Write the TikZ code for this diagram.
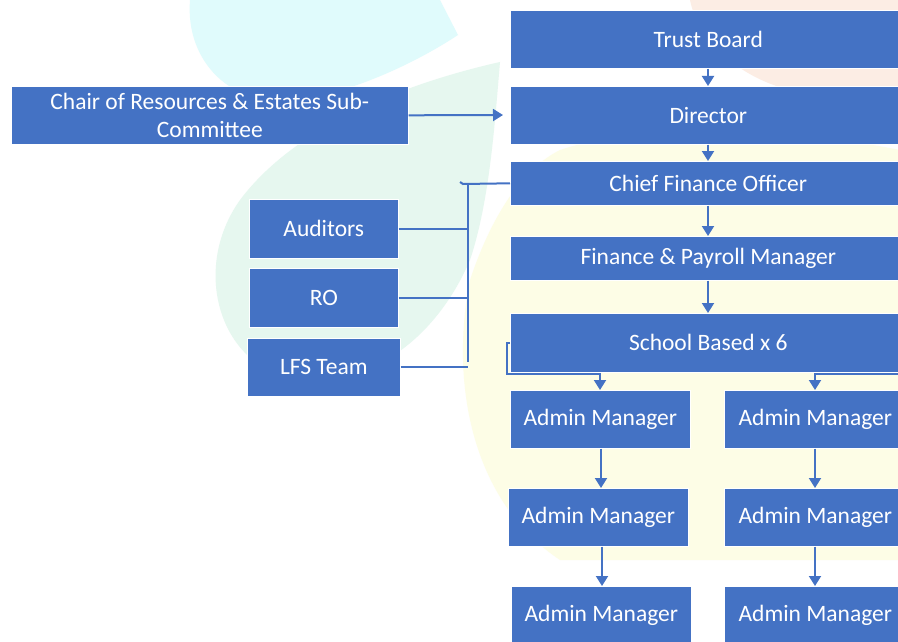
\documentclass[tikz,border=0pt]{standalone}
\usepackage{fontspec}
\setmainfont{Carlito}
\usetikzlibrary{arrows.meta}
\definecolor{obox}{HTML}{4472C4}
\definecolor{wmcyan}{HTML}{E0FBFC}
\definecolor{wmteal}{HTML}{E6F7EF}
\definecolor{wmyellow}{HTML}{FDFDE6}
\definecolor{wmorange}{HTML}{FCEDE4}
\begin{document}
\begin{tikzpicture}[x=1pt,y=-1pt,
  box/.style={fill=obox, draw=white, line width=0.6pt, text=white,
    font=\fontsize{23.5}{28}\selectfont, inner sep=0pt, anchor=north west, align=center},
  link/.style={draw=obox, line width=2pt},
  arr/.style={link, -{Triangle[width=12pt,length=10pt]}}]
\useasboundingbox (0,0) rectangle (898,642);
\clip (0,0) rectangle (898,642);
\fill[white] (0,0) rectangle (898,642);
% watermark
\fill[wmcyan] (190,0) .. controls (185,60) and (230,110) .. (300,100) .. controls (360,90) and (420,60) .. (458,35) -- (440,0) -- cycle;
\fill[wmteal] (500,62) .. controls (420,80) and (300,120) .. (240,200) .. controls (190,270) and (220,370) .. (300,380) .. controls (380,385) and (440,330) .. (470,260) .. controls (490,200) and (495,120) .. (500,62) -- cycle;
\fill[wmyellow] (470,280) .. controls (450,380) and (470,500) .. (560,560) -- (900,560) -- (900,150) .. controls (800,130) and (650,120) .. (560,150) .. controls (520,170) and (490,220) .. (470,280) -- cycle;
\fill[wmorange] (690,0) .. controls (700,50) and (760,95) .. (830,95) -- (898,95) -- (898,0) -- cycle;
% nodes
\node[box, minimum width=396, minimum height=58] (tb) at (510,10) {Trust Board};
\node[box, minimum width=396, minimum height=58] (dir) at (510,86) {Director};
\node[box, minimum width=396, minimum height=44] (cfo) at (510,161) {Chief Finance Officer};
\node[box, minimum width=396, minimum height=44] (fpm) at (510,236) {Finance \& Payroll Manager};
\node[box, minimum width=396, minimum height=59] (sb) at (510,313) {School Based x 6};
\node[box, minimum width=397, minimum height=58] (chair) at (11,86) {Chair of Resources \& Estates Sub-\\Committee};
\node[box, minimum width=149, minimum height=59] (aud) at (249,199) {Auditors};
\node[box, minimum width=149, minimum height=59] (ro) at (249,268) {RO};
\node[box, minimum width=153, minimum height=58] (lfs) at (247,338) {LFS Team};
\node[box, minimum width=180, minimum height=58] (am1) at (510,390) {Admin Manager};
\node[box, minimum width=180, minimum height=58] (am2) at (508,488) {Admin Manager};
\node[box, minimum width=180, minimum height=58] (am3) at (511,586) {Admin Manager};
\node[box, minimum width=182, minimum height=58] (bm1) at (724,390) {Admin Manager};
\node[box, minimum width=182, minimum height=58] (bm2) at (724,488) {Admin Manager};
\node[box, minimum width=182, minimum height=58] (bm3) at (724,586) {Admin Manager};
% connectors
\coordinate (dirin) at (503,115);
\coordinate (jt) at (463,184);
\draw[arr] (tb.south -| 708,0) -- (dir.north -| 708,0);
\draw[arr] (dir.south -| 708,0) -- (cfo.north -| 708,0);
\draw[arr] (cfo.south -| 708,0) -- (fpm.north -| 708,0);
\draw[arr] (fpm.south -| 708,0) -- (sb.north -| 708,0);
\draw[arr] (chair.east) -- (dirin);
\draw[link] (cfo.west) -- (jt) -- ++(-3,-2);
\draw[link] (468,184) -- (468,362);
\draw[link] (aud.east) -- (aud.east -| 468,0);
\draw[link] (ro.east) -- (ro.east -| 468,0);
\draw[link] (lfs.east) -- (lfs.east -| 468,0);
\draw[arr] (sb.west |- 0,343) -- ++(-3,0) -- (507,374) -- (600,374) -- (am1.north -| 600,0);
\draw[arr] (sb.east |- 0,374) -- (815,374) -- (bm1.north -| 815,0);
\draw[arr] (am1.south -| 601,0) -- (am2.north -| 601,0);
\draw[arr] (am2.south -| 602,0) -- (am3.north -| 602,0);
\draw[arr] (bm1.south -| 815,0) -- (bm2.north -| 815,0);
\draw[arr] (bm2.south -| 815,0) -- (bm3.north -| 815,0);
\end{tikzpicture}
\end{document}
